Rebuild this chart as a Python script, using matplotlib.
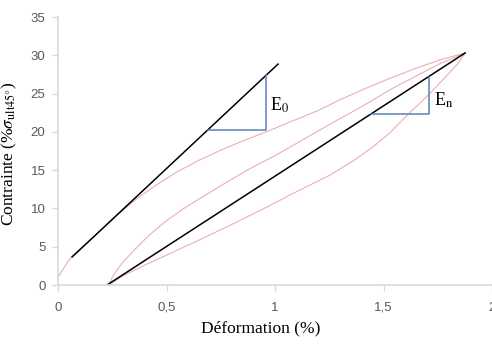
import matplotlib
matplotlib.use("Agg")
import matplotlib.pyplot as plt

# first loading curve
load_x = [0, 0.03, 0.065, 0.13, 0.2, 0.28, 0.364, 0.45, 0.55, 0.65, 0.75, 0.85, 0.96,
          1.07, 1.2, 1.3, 1.42, 1.53, 1.65, 1.76, 1.876]
load_y = [1.0, 2.4, 3.8, 5.4, 7.2, 9.3, 11.3, 13.0, 14.8, 16.3, 17.6, 18.8, 20.0,
          21.3, 22.8, 24.2, 25.7, 27.0, 28.3, 29.4, 30.3]

# reloading curve
reload_x = [0.235, 0.25, 0.27, 0.3, 0.346, 0.42, 0.5, 0.58, 0.654, 0.77, 0.885, 1.0,
            1.1, 1.253, 1.4, 1.53, 1.65, 1.76, 1.876]
reload_y = [0.0, 1.0, 1.9, 3.0, 4.4, 6.5, 8.4, 10.0, 11.3, 13.3, 15.2, 16.9,
            18.5, 21.0, 23.3, 25.5, 27.3, 28.9, 30.3]

# unloading curve
unload_x = [0.235, 0.3, 0.4, 0.5, 0.63, 0.8, 0.95, 1.1, 1.25, 1.36, 1.45, 1.53,
            1.61, 1.71, 1.79, 1.84, 1.876]
unload_y = [0.0, 1.2, 2.6, 3.9, 5.6, 7.9, 10.0, 12.2, 14.3, 16.2, 18.0, 19.9,
            22.2, 24.9, 27.3, 28.8, 30.3]

# tangent (E0) and secant (En) lines
e0_x = [0.065, 1.014]
e0_y = [3.66, 28.85]
en_x = [0.226, 1.876]
en_y = [0.0, 30.3]

# slope triangles
tri0_x = [0.691, 0.959, 0.959]
tri0_y = [20.3, 20.3, 27.4]
trin_x = [1.442, 1.71, 1.71]
trin_y = [22.3, 22.3, 27.2]

xticks = [0, 0.5, 1, 1.5, 2]
xtick_labels = ["0", "0,5", "1", "1,5", "2"]
yticks = [0, 5, 10, 15, 20, 25, 30, 35]

plt.rcParams["mathtext.fontset"] = "stix"

fig = plt.figure(figsize=(4.92, 3.44), dpi=100)
ax = fig.add_axes([58 / 492, 1 - 285 / 344, 1 - 58 / 492, 268 / 344])

pink = "#eaa9b0"
ax.plot(load_x, load_y, color=pink, lw=0.75)
ax.plot(reload_x, reload_y, color=pink, lw=0.75)
ax.plot(unload_x, unload_y, color=pink, lw=0.75)
ax.plot(e0_x, e0_y, color="black", lw=1.1)
ax.plot(en_x, en_y, color="black", lw=1.1)
ax.plot(tri0_x, tri0_y, color="#5b80b8", lw=1.1)
ax.plot(trin_x, trin_y, color="#5b80b8", lw=1.1)

ax.text(0.975, 23.5, r"E$_0$", fontsize=13, family="Liberation Serif",
        ha="left", va="center")
ax.text(1.732, 24.1, r"E$_\mathrm{n}$", fontsize=13, family="Liberation Serif",
        ha="left", va="center")

ax.set_xlim(0, 2)
ax.set_ylim(0, 35)
ax.set_xticks(xticks)
ax.set_xticklabels(xtick_labels)
ax.set_yticks(yticks)

for s in ["top", "right"]:
    ax.spines[s].set_visible(False)
for s in ["left", "bottom"]:
    ax.spines[s].set_color("#d9d9d9")
    ax.spines[s].set_linewidth(1.2)
ax.tick_params(colors="#d9d9d9", labelcolor="#595959", length=4, width=1,
               labelsize=9.5)
ax.tick_params(axis="x", pad=8)
ax.tick_params(axis="y", pad=5)
for lab in ax.get_xticklabels() + ax.get_yticklabels():
    lab.set_family("Liberation Sans")

ax.set_xlabel("Déformation (%)", family="Liberation Serif", fontsize=12.5)
ax.xaxis.set_label_coords(0.468, -0.132)
ax.set_ylabel(r"Contrainte (%$\sigma_{\mathrm{ult45°}}$)", family="Liberation Serif",
              fontsize=12.5)
ax.yaxis.set_label_coords(-0.09, 0.49)

fig.savefig("out.png", dpi=100)
